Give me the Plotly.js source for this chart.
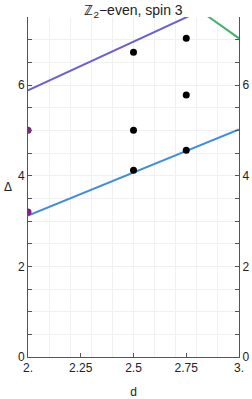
<!DOCTYPE html>
<html><head><meta charset="utf-8">
<script src="https://cdn.plot.ly/plotly-3.0.1.min.js"></script>
<style>html,body{margin:0;padding:0;background:#fff}#c{width:252px;height:399px}</style>
</head><body><div id="c"></div>
<script>
var blackD = [2.5, 2.5, 2.5, 2.75, 2.75, 2.75];
var blackDelta = [4.12, 5.0, 6.72, 4.56, 5.78, 7.03];
var purpleD = [2, 2];
var purpleDelta = [3.2, 5.0];
var blueLineD = [2, 3];
var blueLineDelta = [3.12, 5.02];
var violetLineD = [2, 3];
var violetLineDelta = [5.88, 8.03];
var greenLineD = [2.8, 3];
var greenLineDelta = [7.69, 7.03];
var xTickVals = [2, 2.25, 2.5, 2.75, 3];
var xTickText = ["2.", "2.25", "2.5", "2.75", "3."];
var yTickVals = [0, 2, 4, 6];
var yTickText = ["0", "2", "4", "6"];

var traces = [
  {x: blueLineD, y: blueLineDelta, mode: 'lines', line: {color: '#3d8ce8', width: 2}, hoverinfo: 'skip'},
  {x: violetLineD, y: violetLineDelta, mode: 'lines', line: {color: '#6a5fd6', width: 2}, hoverinfo: 'skip'},
  {x: greenLineD, y: greenLineDelta, mode: 'lines', line: {color: '#44b46a', width: 2}, hoverinfo: 'skip'},
  {x: purpleD, y: purpleDelta, mode: 'markers', marker: {color: '#8a1a8a', size: 7}, cliponaxis: true},
  {x: blackD, y: blackDelta, mode: 'markers', marker: {color: '#000', size: 7}},
  {x: [2], y: [0], yaxis: 'y2', mode: 'markers', marker: {opacity: 0}, hoverinfo: 'skip'}
];
var fnt = {family: 'Liberation Sans, Arial, sans-serif', size: 12, color: '#222'};
var layout = {
  width: 252, height: 399,
  margin: {l: 28, r: 13, t: 17, b: 42},
  showlegend: false,
  paper_bgcolor: '#fff', plot_bgcolor: '#fff',
  font: fnt,
  title: {text: 'ℤ<sub>2</sub>−even, spin 3', x: 0.53, xanchor: 'center', y: 0.988, yanchor: 'top', font: {family: 'Liberation Sans, Arial, sans-serif', size: 14, color: '#222'}},
  annotations: [{text: 'Δ', xref: 'paper', yref: 'paper', x: -0.095, y: 0.5, xanchor: 'center', yanchor: 'middle', showarrow: false, font: fnt}],
  xaxis: {
    range: [2, 3], tickvals: xTickVals, ticktext: xTickText,
    ticks: 'inside', ticklen: 4, tickcolor: '#555',
    showline: true, linecolor: '#555', linewidth: 1, mirror: false,
    showgrid: false, zeroline: false,
    minor: {dtick: 0.1, tick0: 2, showgrid: true, gridcolor: '#f0f0f0', ticks: ''},
    tickfont: fnt,
    title: {text: 'd', font: fnt, standoff: 14}
  },
  yaxis: {
    range: [0, 7.5], tickvals: yTickVals, ticktext: yTickText,
    ticks: 'inside', ticklen: 4, tickcolor: '#555',
    showline: true, linecolor: '#555', linewidth: 1,
    showgrid: true, gridcolor: '#f0f0f0', zeroline: false,
    minor: {dtick: 0.5, tick0: 0, ticks: 'inside', ticklen: 4, tickcolor: '#555', showgrid: true, gridcolor: '#f0f0f0'},
    tickfont: fnt
  },
  yaxis2: {
    range: [0, 7.5], overlaying: 'y', side: 'right', anchor: 'x',
    tickvals: yTickVals, ticktext: yTickText,
    ticks: 'inside', ticklen: 4, tickcolor: '#555',
    showline: true, linecolor: '#555', linewidth: 1,
    showgrid: false, zeroline: false,
    minor: {dtick: 0.5, tick0: 0, ticks: 'inside', ticklen: 4, tickcolor: '#555', showgrid: false},
    tickfont: fnt
  }
};
Plotly.newPlot('c', traces, layout, {displayModeBar: false, staticPlot: true});
</script></body></html>
